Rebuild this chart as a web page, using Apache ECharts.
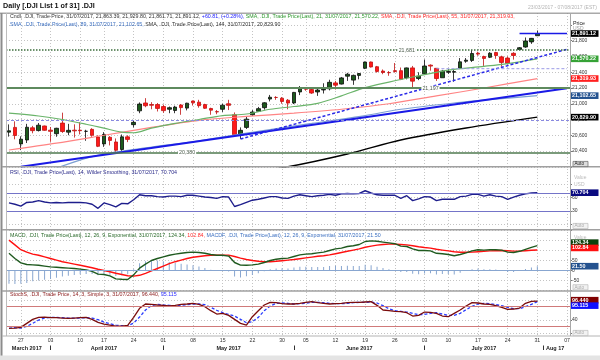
<!DOCTYPE html>
<html><head><meta charset="utf-8">
<script src="https://cdn.jsdelivr.net/npm/echarts@6/dist/echarts.min.js"></script>
<style>html,body{margin:0;padding:0;background:#fff}#c{width:600px;height:360px}</style>
</head><body><div id="c"></div>
<script>
// ---------- categories (trading days + empty days up to 07/08/2017) ----------
const dates = ['2017-03-23','2017-03-24','2017-03-27','2017-03-28','2017-03-29','2017-03-30','2017-03-31',
'2017-04-03','2017-04-04','2017-04-05','2017-04-06','2017-04-07','2017-04-10','2017-04-11','2017-04-12','2017-04-13',
'2017-04-17','2017-04-18','2017-04-19','2017-04-20','2017-04-21','2017-04-24','2017-04-25','2017-04-26','2017-04-27','2017-04-28',
'2017-05-01','2017-05-02','2017-05-03','2017-05-04','2017-05-05','2017-05-08','2017-05-09','2017-05-10','2017-05-11','2017-05-12',
'2017-05-15','2017-05-16','2017-05-17','2017-05-18','2017-05-19','2017-05-22','2017-05-23','2017-05-24','2017-05-25','2017-05-26',
'2017-05-30','2017-05-31','2017-06-01','2017-06-02','2017-06-05','2017-06-06','2017-06-07','2017-06-08','2017-06-09',
'2017-06-12','2017-06-13','2017-06-14','2017-06-15','2017-06-16','2017-06-19','2017-06-20','2017-06-21','2017-06-22','2017-06-23',
'2017-06-26','2017-06-27','2017-06-28','2017-06-29','2017-06-30','2017-07-03','2017-07-05','2017-07-06','2017-07-07',
'2017-07-10','2017-07-11','2017-07-12','2017-07-13','2017-07-14','2017-07-17','2017-07-18','2017-07-19','2017-07-20','2017-07-21',
'2017-07-24','2017-07-25','2017-07-26','2017-07-27','2017-07-28','2017-07-31',
'2017-08-01','2017-08-02','2017-08-03','2017-08-04','2017-08-07'];
const weekLabelIdx = [2,7,12,16,21,26,31,36,41,46,50,55,60,65,70,74,79,84,89,94];
const monthLabelIdx = [3,16,37,59,80,92];
const monthLabels = ['March 2017','April 2017','May 2017','June 2017','July 2017','Aug 17'];
const monthStartIdx = [7,26,48,70,90];
const priceTicks = [20400,20600,20800,21000,21200,21400,21600,21800];

// ---------- candles ----------
const opens  = [20640,20700,20490,20540,20695,20660,20718,20665,20620,20755,20640,20665,20665,20650,20675,20578,20490,20575,20515,20420,20580,20735,20910,21010,20990,20990,20965,20930,20915,20985,20945,21035,21020,20990,20940,20900,20930,21000,20860,20600,20700,20860,20905,20950,21060,21080,21070,21045,21010,21150,21200,21180,21150,21175,21190,21265,21250,21350,21300,21360,21450,21530,21470,21415,21395,21420,21420,21330,21455,21320,21380,21490,21450,21330,21400,21400,21450,21540,21550,21640,21600,21590,21650,21595,21580,21640,21690,21720,21785,21863.39];
const highs  = [20738,20777,20587,20745,20719,20756,20723,20705,20695,20887,20745,20739,20766,20670,20690,20600,20640,20590,20560,20610,20600,20790,21017,21071,21020,21010,20990,20965,20975,20995,21013,21040,21050,21000,20950,20920,21000,21050,20890,20700,20842,20920,20960,21020,21112,21096,21085,21060,21150,21225,21210,21205,21200,21260,21305,21290,21340,21392,21370,21390,21535,21535,21480,21435,21415,21517,21460,21460,21480,21400,21562,21500,21450,21430,21440,21440,21580,21580,21681,21660,21610,21655,21660,21610,21600,21655,21720,21841,21835,21929.80];
const lows   = [20583,20549,20412,20502,20625,20648,20657,20517,20581,20630,20601,20571,20611,20530,20581,20450,20453,20471,20380,20400,20513,20700,20880,20956,20930,20902,20885,20880,20880,20860,20916,20977,20950,20935,20860,20867,20896,20920,20606,20553,20680,20845,20899,20925,21030,21050,21000,20930,20996,21110,21165,21125,21100,21130,21170,21180,21245,21290,21240,21310,21440,21460,21395,21375,21355,21395,21300,21310,21198,21300,21370,21420,21290,21330,21380,21280,21440,21520,21530,21610,21480,21580,21570,21470,21500,21560,21680,21710,21760,21861.71];
const closes = [20657,20597,20551,20702,20659,20728,20663,20650,20689,20648,20663,20656,20658,20651,20600,20460,20610,20535,20410,20580,20548,20764,20996,20975,20981,20941,20913,20950,20958,20951,21007,21012,20976,20943,20919,20897,20982,20980,20607,20663,20805,20895,20938,21012,21083,21080,21029,21009,21144,21206,21184,21136,21174,21183,21272,21236,21328,21375,21360,21384,21529,21467,21410,21397,21395,21410,21311,21455,21287,21350,21479,21478,21320,21414,21409,21409,21532,21553,21638,21630,21575,21641,21612,21525,21513,21613,21711,21797,21830,21891.12];

// ---------- moving averages, read at sample days [dayIndex, value] ----------
const sma21  = [[0,20880],[5,20845],[9,20800],[13,20740],[16,20690],[19,20640],[21,20632],[24,20690],[28,20750],[32,20800],[36,20850],[40,20870],[44,20930],[48,20965],[52,21005],[56,21100],[60,21205],[64,21275],[68,21340],[74,21428],[80,21475],[84,21510],[89,21570.22]];
const sma55  = [[0,20413],[8,20500],[16,20600],[24,20700],[32,20790],[40,20840],[48,20880],[56,20930],[64,21000],[72,21100],[80,21200],[89,21319.93]];
const sma89  = [[5,20100],[14,20330],[23,20440],[32,20530],[42,20650],[51,20750],[60,20850],[66,20930],[75,21010],[83,21065],[89,21102.65]];
const sma144 = [[38,20100],[47,20201],[57,20363],[66,20540],[77,20692],[89,20829.90]];

// ---------- drawn studies ----------
const trendSolid  = [[2,20200],[94,21196]];
const trendDashed = [[39,20553],[94,21691]];
const levelDotted = 21681, levelMid = 21197, levelLow = 20380, levelDash = 20795;
const shortDash   = [[72,21445],[94,21445]];
const lastLine    = [[86,21891.12],[94,21891.12]];

// ---------- indicators ----------
const rsi = [48,45,41,49,50,53,50,48,49,48,49,49,49,48,45,36,48,44,39,47,46,55,66,64,64,62,61,63,63,62,65,65,63,61,60,58,62,61,40,44,49,54,56,59,62,62,59,58,63,66,64,62,64,65,67,65,68,69,68,69,75,70,66,65,65,65,58,64,53,57,62,61,53,56,56,56,62,63,67,67,63,66,63,62,56,61,65,68,70,70.704];
const macd = [86,60,38,30,28,26,22,18,16,14,12,10,7,3,-4,-18,-20,-27,-42,-44,-45,-22,12,32,50,60,68,76,82,86,90,92,90,86,80,76,76,72,40,27,26,28,32,40,50,56,60,62,70,78,82,84,88,92,100,108,112,120,124,130,145,148,146,142,138,134,122,120,108,100,100,98,86,84,80,74,80,88,98,104,102,104,104,102,92,90,96,106,116,124.34];
const macdSignal = [152,128,104,92,82,76,68,60,52,44,38,32,26,20,14,6,0,-6,-14,-20,-26,-28,-24,-14,-2,10,22,34,44,52,60,66,70,74,76,77,77,77,70,62,55,50,46,44,44,46,49,52,55,59,63,67,71,74,78,84,90,96,102,108,116,122,127,130,132,132,130,128,124,119,115,112,106,102,98,94,91,91,92,94,96,98,99,100,99,97,97,99,101,102.84];
const macdHist = [-66,-68,-66,-62,-54,-50,-46,-42,-36,-30,-26,-22,-19,-17,-18,-24,-20,-21,-28,-24,-19,6,36,46,52,50,46,42,38,34,30,26,20,12,4,-1,-1,-5,-30,-35,-29,-22,-14,-4,6,10,11,10,15,19,19,17,17,18,22,24,22,24,22,22,29,26,19,12,6,2,-8,-8,-16,-19,-15,-14,-20,-18,-18,-20,-11,-3,6,10,6,6,5,2,-7,-7,-1,7,15,21.5];
const stochK = [15,16,18,30,42,48,49,47,47,46,45,46,47,48,42,33,28,25,22,22,24,48,75,88,87,85,84,82,84,87,88,90,87,80,68,58,60,54,42,30,25,50,68,85,93,92,89,88,88,90,93,95,92,90,88,89,90,92,93,93,94,95,84,70,68,66,65,62,52,54,64,63,60,52,50,60,70,82,92,91,88,87,83,78,72,73,76,90,96,96.44];
const stochD = [20,17,16,21,30,40,46,48,48,47,46,46,46,47,46,41,34,29,25,23,23,31,49,70,83,87,85,84,83,84,86,88,88,86,78,69,62,57,52,42,32,35,48,68,82,90,91,90,88,89,90,93,93,92,90,89,89,90,92,93,93,94,91,83,74,68,66,64,60,56,57,60,62,58,54,54,60,71,81,88,90,89,86,83,78,74,74,80,87,95.115];

// ---------- chart ----------
const FONT = '"Liberation Sans", Arial, sans-serif';
const chart = echarts.init(document.getElementById('c'), null, {renderer:'canvas', width:600, height:360});
const L = 6, W = 564;
const candleData = opens.map((o,i)=>[o, closes[i], lows[i], highs[i]]);
const hiddenX = (gi) => ({type:'category', gridIndex:gi, data:dates, boundaryGap:true, show:false});
const dotted = {show:true, lineStyle:{color:'#c4c4c4', type:[1,2], width:1}};
const yBase = (gi, min, max, interval, shown) => ({
  type:'value', gridIndex:gi, position:'right', min, max, interval,
  axisLine:{show:false}, axisTick:{show:true, length:2, lineStyle:{color:'#777'}},
  axisLabel:{fontSize:5, color:'#333', margin:2, fontFamily:FONT,
    formatter:(v)=> shown.includes(v) ? v.toLocaleString('en-US') : ''},
  splitLine:dotted
});
const mk = (data) => ({symbol:['none','none'], silent:true, label:{show:false}, animation:false, data});

const option = {
  animation:false,
  backgroundColor:'#fff',
  grid:[
    {left:L, width:W, top:9.2, height:157.6},
    {left:L, width:W, top:184, height:40.5},
    {left:L, width:W, top:230.5, height:60},
    {left:L, width:W, top:300, height:33.4},
    {left:L, width:W, top:13, height:323}
  ],
  xAxis:[
    hiddenX(0), hiddenX(1), hiddenX(2),
    {type:'category', gridIndex:3, data:dates, boundaryGap:true,
      axisLine:{show:false}, axisTick:{show:false},
      axisLabel:{interval:(i)=>weekLabelIdx.includes(i), formatter:(v)=>v.slice(8,10),
        fontSize:5.2, color:'#333', margin:4.5, fontFamily:FONT},
      splitLine:{show:false}},
    {type:'category', gridIndex:4, data:dates, boundaryGap:true,
      axisLine:{show:false}, axisTick:{show:false}, axisLabel:{show:false},
      splitLine:{show:true, alignWithLabel:true, interval:(i)=>weekLabelIdx.includes(i),
        lineStyle:{color:'#c4c4c4', type:[1,2], width:1}}},
    {type:'category', gridIndex:3, data:dates, boundaryGap:true, position:'bottom', offset:12.1,
      axisLine:{show:false},
      axisTick:{show:true, alignWithLabel:true, length:4.5, interval:(i)=>monthStartIdx.includes(i), lineStyle:{color:'#333'}},
      axisLabel:{interval:(i)=>monthLabelIdx.includes(i), formatter:(v,i)=>monthLabels[monthLabelIdx.indexOf(i)] || '',
        fontSize:5.5, fontWeight:'bold', color:'#222', margin:0, fontFamily:FONT},
      splitLine:{show:false}}
  ],
  yAxis:[
    yBase(0, 20200, 22200, 200, priceTicks),
    yBase(1, 0, 90, 30, [30,60]),
    yBase(2, -100, 200, 50, [-50,0,50]),
    yBase(3, 0, 100, 40, [40]),
    {type:'value', gridIndex:4, show:false, min:0, max:1}
  ],
  series:[
    {type:'candlestick', xAxisIndex:0, yAxisIndex:0, data:candleData, barWidth:4,
      itemStyle:{color:'#1c5a1c', color0:'#ff1a1a', borderColor:'#0a0a0a', borderColor0:'#c01010', borderWidth:0.8},
      markLine:mk([
        {yAxis:levelDotted, lineStyle:{color:'#3d6e3d', type:[1.5,1.5], width:1.6}},
        {yAxis:levelMid, lineStyle:{color:'#5e8a5e', type:'solid', width:2}},
        {yAxis:levelLow, lineStyle:{color:'#4f7a4f', type:'solid', width:1.6}},
        {yAxis:levelDash, lineStyle:{color:'#8a8ae0', type:[3,2], width:1}}
      ])},
    {type:'line', xAxisIndex:0, yAxisIndex:0, data:sma144, showSymbol:false, smooth:0.3, lineStyle:{color:'#000', width:1.4}},
    {type:'line', xAxisIndex:0, yAxisIndex:0, data:sma89, showSymbol:false, smooth:0.3, lineStyle:{color:'#7c9fd2', width:1.2}},
    {type:'line', xAxisIndex:0, yAxisIndex:0, data:trendSolid, showSymbol:false, lineStyle:{color:'#1a1ae6', width:2}},
    {type:'line', xAxisIndex:0, yAxisIndex:0, data:sma55, showSymbol:false, smooth:0.3, lineStyle:{color:'#ff8484', width:1.2}},
    {type:'line', xAxisIndex:0, yAxisIndex:0, data:sma21, showSymbol:false, smooth:0.3, lineStyle:{color:'#6ab46a', width:1.2}},
    {type:'line', xAxisIndex:0, yAxisIndex:0, data:trendDashed, showSymbol:false, lineStyle:{color:'#2a2ae8', width:1.5, type:[3,2]}},
    {type:'line', xAxisIndex:0, yAxisIndex:0, data:shortDash, showSymbol:false, lineStyle:{color:'#9a9ae6', width:1, type:[3,2]}},
    {type:'line', xAxisIndex:0, yAxisIndex:0, data:lastLine, showSymbol:false, lineStyle:{color:'#1a1ae6', width:1.6}},
    {type:'line', xAxisIndex:1, yAxisIndex:1, data:rsi, showSymbol:false, lineStyle:{color:'#1e1e8c', width:1.4},
      markLine:mk([{yAxis:70, lineStyle:{color:'#7474c8', type:'solid', width:1}},{yAxis:30, lineStyle:{color:'#7474c8', type:'solid', width:1}}])},
    {type:'bar', xAxisIndex:2, yAxisIndex:2, data:macdHist, barWidth:1, itemStyle:{color:'#88a6d0'},
      markLine:mk([{yAxis:0, lineStyle:{color:'#88a6d0', type:'solid', width:1}}])},
    {type:'line', xAxisIndex:2, yAxisIndex:2, data:macdSignal, showSymbol:false, lineStyle:{color:'#ff1010', width:1.4}},
    {type:'line', xAxisIndex:2, yAxisIndex:2, data:macd, showSymbol:false, lineStyle:{color:'#1f5a1f', width:1.4}},
    {type:'line', xAxisIndex:3, yAxisIndex:3, data:stochD, showSymbol:false, lineStyle:{color:'#2a3cff', width:1.3, type:[3,2]},
      markLine:mk([{yAxis:80, lineStyle:{color:'#d07a7a', type:'solid', width:1}},{yAxis:20, lineStyle:{color:'#d07a7a', type:'solid', width:1}}])},
    {type:'line', xAxisIndex:3, yAxisIndex:3, data:stochK, showSymbol:false, lineStyle:{color:'#7a0c0c', width:1.3}}
  ]
};
chart.setOption(option);

// ---------- overlay text & frame, positioned through the axes ----------
const py = (ax, v) => chart.convertToPixel({yAxisIndex:ax}, v);
const px = (i) => chart.convertToPixel({xAxisIndex:0}, i);
const G = [];
const txt = (x, y, text, fill, size, extra) => G.push(Object.assign({type:'text', x, y, z:120,
  style:Object.assign({text, fill, font:size+'px '+FONT, textAlign:'left', textVerticalAlign:'middle', align:'left', verticalAlign:'middle'}, extra||{})}));
const line = (x1,y1,x2,y2,stroke,w) => G.push({type:'line', z:115, shape:{x1,y1,x2,y2}, style:{stroke, lineWidth:w}});
const rect = (x,y,w,h,fill,stroke) => G.push({type:'rect', z:116, shape:{x,y,width:w,height:h}, style:{fill, stroke:stroke||null, lineWidth:stroke?0.7:0}});

rect(0,0,600,12.6,'#fff');
rect(0,355.5,600,5,'#e4e4e4');
// frame
line(0,13,600,13,'#8c8c8c',1.4);
line(1.5,13,1.5,356,'#8c8c8c',2);
line(6.5,13,6.5,336,'#bdbdbd',1);
line(570.5,13,570.5,336,'#a8a8a8',1);
line(2,166.8,600,166.8,'#a0a0a0',1.6);
line(2,229.8,600,229.8,'#a0a0a0',1.6);
line(2,291,600,291,'#a0a0a0',1.6);
line(2,336,600,336,'#b4b4b4',1);

// titles
txt(3,6.5,'Daily [.DJI List 1 of 31] .DJI','#111',7,{font:'bold 7.2px '+FONT});
txt(597,8,'23/03/2017 - 07/08/2017 (EST)','#b4b4b4',5,{textAlign:'right', align:'right'});
const richBase = (col) => ({fill:col, font:'5.3px '+FONT});
G.push({type:'text', x:10, y:16.3, z:120, style:{font:'5.3px '+FONT, textVerticalAlign:'middle', verticalAlign:'middle',
  text:'{k|Cndl, .DJI, Trade Price, 31/07/2017, 21,863.39, 21,929.80, 21,861.71, 21,891.12, }{b|+60.81, (+0.28%), }{g|SMA, .DJI, Trade Price(Last), 21, 31/07/2017, 21,570.22, }{r|SMA, .DJI, Trade Price(Last), 55, 31/07/2017, 21,319.93,}',
  rich:{k:richBase('#333'), b:richBase('#2020ff'), g:richBase('#2f9a2f'), r:richBase('#ff2a2a')}}});
G.push({type:'text', x:10, y:24.3, z:120, style:{font:'5.3px '+FONT, textVerticalAlign:'middle', verticalAlign:'middle',
  text:'{s|SMA, .DJI, Trade Price(Last), 89, 31/07/2017, 21,102.65, }{k|SMA, .DJI, Trade Price(Last), 144, 31/07/2017, 20,829.90}',
  rich:{k:richBase('#333'), s:richBase('#3b6fc0')}}});
txt(10,172.5,'RSI, .DJI, Trade Price(Last), 14, Wilder Smoothing, 31/07/2017, 70.704','#2a2a8a',5.3);
G.push({type:'text', x:10, y:236, z:120, style:{font:'5.3px '+FONT, textVerticalAlign:'middle', verticalAlign:'middle',
  text:'{g|MACD, .DJI, Trade Price(Last), 12, 26, 9, Exponential, 31/07/2017, 124.34, }{r|102.84, }{s|MACDF, .DJI, Trade Price(Last), 12, 26, 9, Exponential, 31/07/2017, 21.50}',
  rich:{g:richBase('#2a6a2a'), r:richBase('#ff2a2a'), s:richBase('#3b6fc0')}}});
G.push({type:'text', x:10, y:294.3, z:120, style:{font:'5.3px '+FONT, textVerticalAlign:'middle', verticalAlign:'middle',
  text:'{d|StochS, .DJI, Trade Price, 14, 3, Simple, 3, 31/07/2017, 96.440, }{b|95.115}',
  rich:{d:richBase('#8b1a1a'), b:richBase('#2a2aff')}}});

// right column captions
txt(573,23.5,'Price','#222',5.3);
txt(573,29,'USD','#999',5);
txt(574,178,'Value','#bbb',5);
txt(574,185,'USD','#bbb',5);
txt(574,237.5,'Value','#bbb',5);
const auto = (y, dark) => { rect(573,y-2.6,15,5.2,dark?'#dcdcdc':'#f2f2f2',dark?'#666':'#bbb'); txt(574.5,y,'Auto',dark?'#222':'#aaa',4.6); };
auto(164,true); auto(226,false); auto(287.3,false); auto(333,false);

// value tags on the right axis
const tag = (ax, v, text, bg, dy) => { const y = py(ax, v) + (dy||0); rect(571,y-3.3,27.5,6.6,bg); txt(572,y,text,'#fff',5.4,{font:'bold 5.4px '+FONT}); };
tag(0, 21891.12, '21,891.12', '#000');
tag(0, 21570.22, '21,570.22', '#36a236');
tag(0, 21319.93, '21,319.93', '#ff2020');
tag(0, 21102.65, '21,102.65', '#24528f');
tag(0, 20829.90, '20,829.90', '#000');
tag(1, 70.704, '70.704', '#0a0a80');
tag(2, 124.34, '124.34', '#0c420c', -3);
tag(2, 102.84, '102.84', '#ff1010', -2);
tag(2, 21.50, '21.50', '#24528f');
tag(3, 96.44, '96.440', '#800000', -1);
tag(3, 95.115, '95.115', '#1010ff', 4);

// level captions on the price chart
const cap = (i, v, text) => txt(px(i), py(0, v), text, '#4a5a4a', 5.3, {textAlign:'center', align:'center', backgroundColor:'#fff', padding:[0,1]});
cap(67.4, levelDotted, '21,681');
cap(71, levelMid, '21,197');
cap(29.5, levelLow, '20,380');

chart.setOption({graphic:G});
</script></body></html>
